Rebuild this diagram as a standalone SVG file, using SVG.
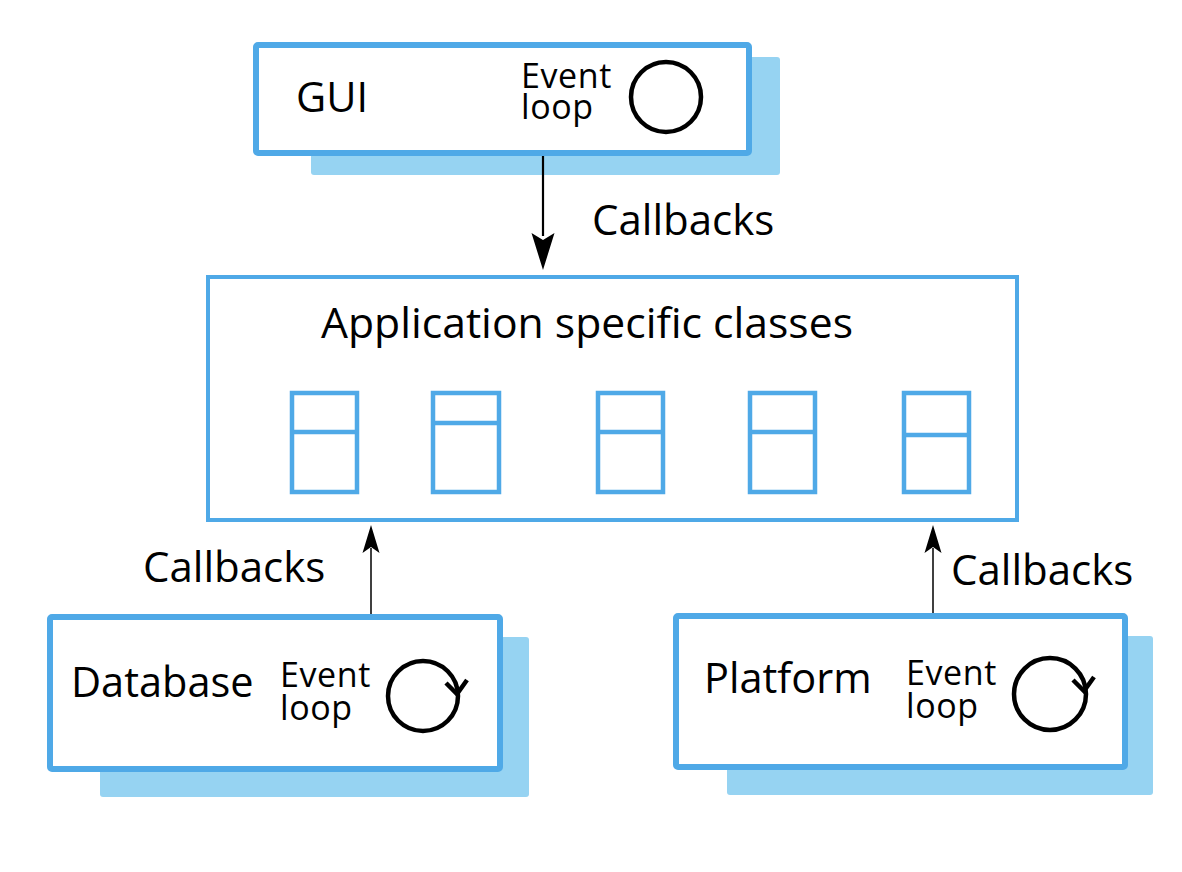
<svg xmlns="http://www.w3.org/2000/svg" width="1182" height="872" viewBox="0 0 1182 872">
<defs>
<style>
.shadow{fill:#96D3F2;stroke:none}
.box{fill:#fff;stroke:#4FA9E7;stroke-width:6}
.main{fill:#fff;stroke:#4FA9E7;stroke-width:4}
.cls{fill:#fff;stroke:#4FA9E7;stroke-width:4.5}
.t{font-family:"Open Sans","Noto Sans",sans-serif;fill:#000}
.big{font-size:41.5px}
.cb{font-size:42px}
.small{font-size:34px;letter-spacing:0.6px}
.loop{fill:none;stroke:#000;stroke-width:4.5}
.conn{stroke:#000;fill:none}
</style>
</defs>
<rect width="1182" height="872" fill="#fff"/>
<g id="gui">
<rect class="shadow" x="311" y="57" width="469" height="118" rx="3"/>
<rect class="box" x="256" y="45" width="493" height="108" rx="2"/>
<text class="t big" x="296" y="112">GUI</text>
<text class="t small" x="521" y="88">Event<tspan x="521" y="119">loop</tspan></text>
<circle class="loop" cx="666" cy="97" r="35"/>
</g>
<g id="app">
<rect class="main" x="208" y="277" width="809" height="243"/>
<text class="t" font-size="42.5" x="321" y="338" textLength="532" lengthAdjust="spacingAndGlyphs">Application specific classes</text>
<g id="class1"><rect class="cls" x="292" y="393" width="65" height="99"/><line class="cls" x1="292" y1="432" x2="357" y2="432"/></g>
<g id="class2"><rect class="cls" x="433" y="393" width="66" height="99"/><line class="cls" x1="433" y1="423" x2="499" y2="423"/></g>
<g id="class3"><rect class="cls" x="598" y="393" width="65" height="99"/><line class="cls" x1="598" y1="432" x2="663" y2="432"/></g>
<g id="class4"><rect class="cls" x="750" y="393" width="65" height="99"/><line class="cls" x1="750" y1="432" x2="815" y2="432"/></g>
<g id="class5"><rect class="cls" x="904" y="393" width="65" height="99"/><line class="cls" x1="904" y1="435" x2="969" y2="435"/></g>
</g>
<g id="database">
<rect class="shadow" x="100" y="637" width="429" height="160" rx="3"/>
<rect class="box" x="50" y="617" width="450" height="152" rx="2"/>
<text class="t big" x="71" y="697">Database</text>
<text class="t small" x="280" y="687">Event<tspan x="280" y="720">loop</tspan></text>
<circle class="loop" cx="423" cy="696" r="35"/>
<polyline class="loop" points="446,683 457,694 467,680"/>
</g>
<g id="platform">
<rect class="shadow" x="727" y="636" width="426" height="159" rx="3"/>
<rect class="box" x="676" y="616" width="449" height="151" rx="2"/>
<text class="t big" x="704" y="693">Platform</text>
<text class="t small" x="906" y="685">Event<tspan x="906" y="718">loop</tspan></text>
<circle class="loop" cx="1050" cy="694" r="36"/>
<polyline class="loop" points="1073,680 1084,691 1094,677"/>
</g>
<g id="connectors">
<line class="conn" stroke-width="2.2" x1="543" y1="156" x2="543" y2="236"/>
<path d="M531.5,233 L543,270 L554.5,233 L543,240 z" fill="#000"/>
<line class="conn" stroke-width="1.5" x1="371" y1="614" x2="371" y2="548"/>
<path d="M362.5,553 L371,525 L379.5,553 L371,547 z" fill="#000"/>
<line class="conn" stroke-width="1.5" x1="933" y1="613" x2="933" y2="548"/>
<path d="M924.5,553 L933,525 L941.5,553 L933,547 z" fill="#000"/>
<text class="t cb" x="592" y="235">Callbacks</text>
<text class="t cb" x="143" y="582">Callbacks</text>
<text class="t cb" x="951" y="585">Callbacks</text>
</g>
</svg>
